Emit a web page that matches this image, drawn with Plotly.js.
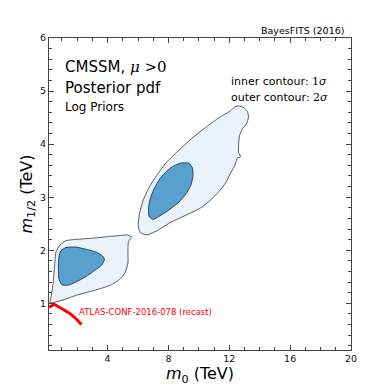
<!DOCTYPE html>
<html>
<head>
<meta charset="utf-8">
<script src="https://cdn.plot.ly/plotly-3.0.1.min.js"></script>
<style>
  html, body { margin: 0; padding: 0; background: #fff; }
  #graph { width: 390px; height: 390px; }
</style>
</head>
<body>
<div id="graph"></div>
<script>
// contour outlines (m0 in TeV, m1/2 in TeV)
const lowOuterM0  = [0.22, 0.28, 0.41, 0.54, 0.61, 0.87, 1.26, 2.17, 3.15, 4.13, 4.91, 5.24, 5.57, 5.37, 5.34, 5.34, 5.17, 4.91, 4.26, 3.22, 2.04, 1.13, 0.54];
const lowOuterM12 = [1.01, 1.12, 1.35, 1.78, 1.97, 2.10, 2.18, 2.21, 2.23, 2.26, 2.28, 2.29, 2.25, 2.16, 1.97, 1.76, 1.59, 1.48, 1.35, 1.25, 1.16, 1.07, 1.02];

const lowInnerM0  = [0.80, 0.93, 1.26, 1.91, 2.56, 3.28, 3.67, 3.80, 3.61, 3.15, 2.56, 1.91, 1.39, 1.00, 0.80, 0.77, 0.77];
const lowInnerM12 = [1.87, 1.99, 2.05, 2.06, 2.02, 1.96, 1.89, 1.83, 1.72, 1.62, 1.50, 1.40, 1.34, 1.35, 1.46, 1.63, 1.78];

const highOuterM0  = [12.61, 12.94, 13.20, 13.26, 13.13, 12.87, 12.67, 12.61, 12.61, 12.74, 12.54, 12.35, 12.02, 11.76, 11.31, 10.78, 10.13, 9.22, 8.18, 7.26, 6.61, 6.15, 6.02, 6.09, 6.35, 6.74, 7.26, 7.85, 8.70, 9.67, 10.65, 11.44, 12.09, 12.35];
const highOuterM12 = [4.72, 4.69, 4.61, 4.51, 4.38, 4.29, 4.16, 3.97, 3.85, 3.76, 3.74, 3.59, 3.42, 3.27, 3.10, 2.95, 2.80, 2.67, 2.53, 2.37, 2.29, 2.33, 2.46, 2.68, 2.95, 3.19, 3.42, 3.65, 3.89, 4.14, 4.36, 4.52, 4.63, 4.70];

const highInnerM0  = [8.76, 9.35, 9.58, 9.61, 9.48, 9.15, 8.70, 8.04, 7.39, 7.00, 6.74, 6.69, 6.80, 7.06, 7.45, 7.91, 8.37];
const highInnerM12 = [3.64, 3.64, 3.55, 3.40, 3.23, 3.06, 2.91, 2.76, 2.64, 2.58, 2.63, 2.78, 2.97, 3.16, 3.35, 3.50, 3.59];

// ATLAS recast limit
const atlasM0  = [0.15, 0.33, 0.50, 0.69, 1.08, 1.52, 1.96, 2.28];
const atlasM12 = [0.925, 0.95, 0.98, 0.95, 0.89, 0.81, 0.70, 0.60];

const xTicks = [4, 8, 12, 16, 20];
const yTicks = [1, 2, 3, 4, 5, 6];

const outerFill = "rgb(234,242,251)";
const innerFill = "rgb(88,161,207)";

function region(x, y, fill, line) {
    return {
        x: x.concat([x[0]]),
        y: y.concat([y[0]]),
        type: "scatter",
        mode: "lines",
        fill: "toself",
        fillcolor: fill,
        line: { color: line, width: 0.9, shape: "spline", smoothing: 0.5 },
        hoverinfo: "skip",
        showlegend: false,
    };
}

const data = [
    region(lowOuterM0, lowOuterM12, outerFill, "#4a4a4a"),
    region(highOuterM0, highOuterM12, outerFill, "#4a4a4a"),
    region(lowInnerM0, lowInnerM12, innerFill, "#1c3550"),
    region(highInnerM0, highInnerM12, innerFill, "#1c3550"),
    {
        x: atlasM0,
        y: atlasM12,
        type: "scatter",
        mode: "lines",
        line: { color: "#ff0000", width: 3 },
        showlegend: false,
    },
];

const axisCommon = {
    showgrid: false,
    zeroline: false,
    showline: true,
    linecolor: "#444",
    linewidth: 1,
    mirror: "ticks",
    ticks: "inside",
    ticklen: 5,
    tickwidth: 1,
    tickcolor: "#444",
    tickfont: { family: "DejaVu Sans", size: 9.5, color: "#111" },
    tickmode: "array",
};

const layout = {
    width: 390,
    height: 390,
    margin: { l: 49, r: 39, t: 38, b: 40 },
    paper_bgcolor: "#fff",
    plot_bgcolor: "#fff",
    font: { family: "DejaVu Sans", color: "#000" },
    xaxis: Object.assign({}, axisCommon, {
        range: [0.15, 20],
        tickvals: xTicks,
        minor: { dtick: 1, ticks: "inside", ticklen: 3, tickcolor: "#444" },
        title: { text: "<i>m</i><sub>0</sub> (TeV)", font: { size: 16 }, standoff: 3 },
    }),
    yaxis: Object.assign({}, axisCommon, {
        range: [0.12, 6],
        tickvals: yTicks,
        minor: { dtick: 0.2, tick0: 0, ticks: "inside", ticklen: 3, tickcolor: "#444" },
        title: { text: "<i>m</i><sub>1/2</sub> (TeV)", font: { size: 16 }, standoff: 3 },
    }),
    annotations: [
        { xref: "paper", yref: "paper", x: 0.983, y: 1.0, xanchor: "right", yanchor: "bottom",
          text: "BayesFITS (2016)", showarrow: false, font: { size: 9.5 } },
        { xref: "paper", yref: "paper", x: 0.045, y: 0.907, xanchor: "left", yanchor: "middle",
          text: "CMSSM, <span style=\"font-family:'DejaVu Serif'\"><i>μ</i> >0</span>", showarrow: false, font: { size: 15 } },
        { xref: "paper", yref: "paper", x: 0.045, y: 0.841, xanchor: "left", yanchor: "middle",
          text: "Posterior pdf", showarrow: false, font: { size: 15 } },
        { xref: "paper", yref: "paper", x: 0.045, y: 0.780, xanchor: "left", yanchor: "middle",
          text: "Log Priors", showarrow: false, font: { size: 12 } },
        { xref: "paper", yref: "paper", x: 0.595, y: 0.862, xanchor: "left", yanchor: "middle",
          text: "inner contour: <span style=\"font-family:'DejaVu Serif'\">1<i>σ</i></span>", showarrow: false, font: { size: 11 } },
        { xref: "paper", yref: "paper", x: 0.595, y: 0.809, xanchor: "left", yanchor: "middle",
          text: "outer contour: <span style=\"font-family:'DejaVu Serif'\">2<i>σ</i></span>", showarrow: false, font: { size: 11 } },
        { xref: "paper", yref: "paper", x: 0.093, y: 0.123, xanchor: "left", yanchor: "middle",
          text: "ATLAS-CONF-2016-078 (recast)", showarrow: false, font: { size: 8.5, color: "#ff0000" } },
    ],
};

Plotly.newPlot("graph", data, layout, { displayModeBar: false, staticPlot: true });
</script>
</body>
</html>
